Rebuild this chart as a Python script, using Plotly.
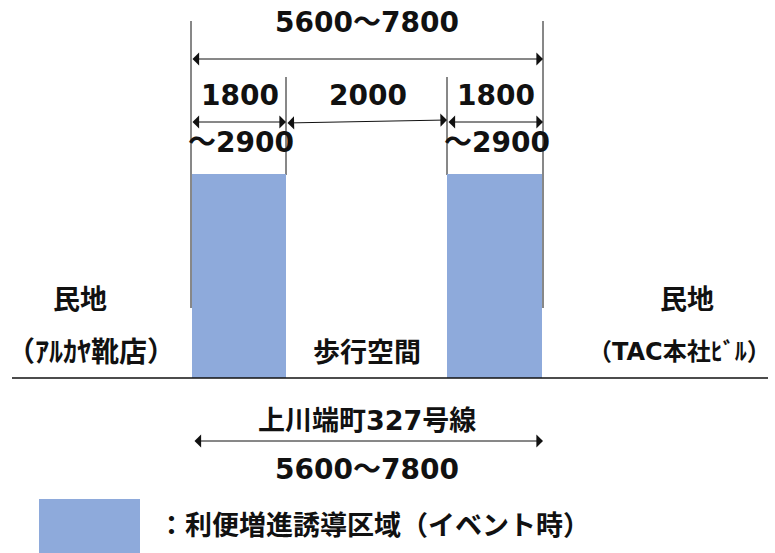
import plotly.graph_objects as go

# 寸法ラベル
total_width = "5600～7800"
seg_upper = ["1800", "2000", "1800"]
seg_lower = ["～2900", "", "～2900"]
road_name = "上川端町327号線"
left_land = ["民地", "（ｱﾙｶﾔ靴店）"]
right_land = ["民地", "（TAC本社ﾋﾞﾙ）"]
center_label = "歩行空間"
legend_label = "：利便増進誘導区域（イベント時）"

# 図の区切り（画面座標）
edges = [191, 286, 447, 543]
mid = (edges[0] + edges[-1]) / 2

BLUE = "#8eaadb"
FONT = "DejaVu Sans, Noto Sans CJK JP"
INK = "#111111"

fig = go.Figure()
fig.add_trace(go.Scatter(x=[0, 775], y=[0, 553], mode="markers",
                         marker=dict(opacity=0), hoverinfo="skip", showlegend=False))

shapes = []
# 利便増進誘導区域
for x0, x1 in [(edges[0] + 1, edges[1]), (edges[2], edges[3] - 1)]:
    shapes.append(dict(type="rect", xref="x", yref="y", x0=x0, x1=x1, y0=174, y1=378,
                       fillcolor=BLUE, line=dict(width=0), layer="above"))
# 外側の縦線
for x in [edges[0], edges[3]]:
    shapes.append(dict(type="line", xref="x", yref="y", x0=x, x1=x, y0=21, y1=308,
                       line=dict(color=INK, width=1), layer="below"))
# 内側の縦線
for x in [edges[1], edges[2]]:
    shapes.append(dict(type="line", xref="x", yref="y", x0=x, x1=x, y0=77, y1=175,
                       line=dict(color=INK, width=1), layer="below"))
# 地面
shapes.append(dict(type="line", xref="x", yref="y", x0=12, x1=768, y0=378, y1=378,
                   line=dict(color=INK, width=1.5)))
# 凡例
shapes.append(dict(type="rect", xref="x", yref="y", x0=39, x1=140, y0=499, y1=553,
                   fillcolor=BLUE, line=dict(width=0)))

ann = []


def arrow(x0, y0, x1, y1):
    ann.append(dict(x=x1, y=y1, ax=x0, ay=y0, xref="x", yref="y", axref="x", ayref="y",
                    text="", showarrow=True, arrowhead=1, startarrowhead=1,
                    arrowside="end+start", arrowsize=2.2, startarrowsize=2.2,
                    arrowwidth=1, arrowcolor=INK))


def label(x, y, text, size=27, xanchor="center"):
    ann.append(dict(x=x, y=y, xref="x", yref="y", text=text, showarrow=False,
                    xanchor=xanchor, yanchor="middle",
                    font=dict(family=FONT, size=size, color=INK, weight="bold")))


# 全幅寸法
label(mid, 22, total_width, size=28)
arrow(edges[0], 59, edges[3], 59)

# 各区間の寸法
for i, (up, low) in enumerate(zip(seg_upper, seg_lower)):
    cx = (edges[i] + edges[i + 1]) / 2
    label(cx + 1, 95, up, size=28)
    if low:
        label(cx + 2, 142, low, size=28)
arrow(edges[0], 122, edges[1], 122)
arrow(edges[1], 123, edges[2], 120)
arrow(edges[2], 122, edges[3], 122)

# 民地・歩行空間
label(80, 299, left_land[0])
label(91, 352, left_land[1], size=28)
label(687, 299, right_land[0])
label(679, 352, right_land[1], size=24)
label(mid, 352, center_label)

# 道路名
label(mid, 420, road_name)
arrow(edges[0] + 2, 441, edges[3], 441)
label(mid, 469, total_width, size=28)

# 凡例
label(156, 525, legend_label, xanchor="left")

fig.update_layout(
    width=775, height=553,
    margin=dict(l=0, r=0, t=0, b=0),
    paper_bgcolor="white", plot_bgcolor="white",
    xaxis=dict(range=[0, 775], visible=False, fixedrange=True),
    yaxis=dict(range=[553, 0], visible=False, fixedrange=True),
    shapes=shapes, annotations=ann, showlegend=False,
)

fig.write_html("out.html", config={"displayModeBar": False},
               post_script="document.body.style.margin = '0';")
